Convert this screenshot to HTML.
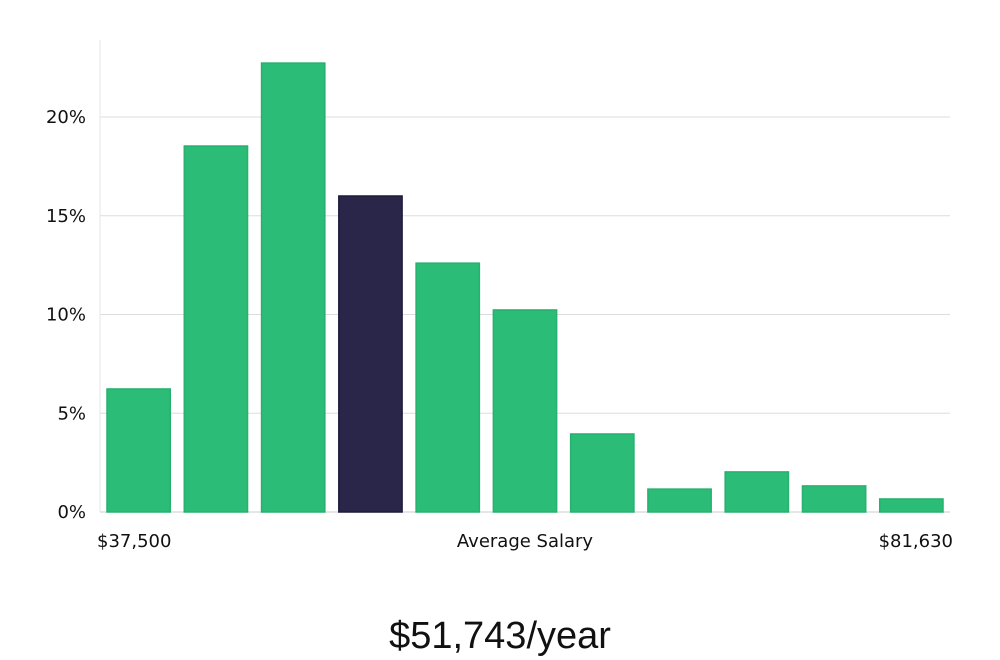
<!DOCTYPE html>
<html><head><meta charset="utf-8">
<style>
html,body{margin:0;padding:0;background:#fff;width:1000px;height:660px;overflow:hidden}
svg{display:block;font-family:"DejaVu Sans","Liberation Sans",sans-serif}
</style></head>
<body>
<svg id="chart" width="1000" height="660" viewBox="0 0 1000 660" xmlns="http://www.w3.org/2000/svg">
<g id="grid"></g>
<g id="bars"></g>
<g id="yticks"></g>
<line x1="100" y1="40" x2="100" y2="512" stroke="#e6e6e6" stroke-width="1"/>
<text x="97" y="547" font-size="18" fill="#111">$37,500</text>
<text x="525" y="547" font-size="18" fill="#111" text-anchor="middle">Average Salary</text>
<text x="953" y="547" font-size="18" fill="#111" text-anchor="end">$81,630</text>
<text x="500" y="648" font-size="38" fill="#111" text-anchor="middle" font-family="'Liberation Sans',sans-serif">$51,743/year</text>
</svg>
<script>
const values = [6.23, 18.53, 22.73, 16.0, 12.6, 10.23, 3.95, 1.16, 2.03, 1.32, 0.66];
const highlightIndex = [3];
const yTicks = [0, 5, 10, 15, 20];
const yTickLabels = ["0%", "5%", "10%", "15%", "20%"];
const NS = "http://www.w3.org/2000/svg";
const x0 = 100, x1 = 950, y0 = 512, pxPerPct = 19.75;
const y = v => y0 - v * pxPerPct;
const band = (x1 - x0) / values.length;
const xb = i => x0 + i * band + 7;
const grid = document.getElementById('grid');
const yt = document.getElementById('yticks');
yTicks.forEach((t, i) => {
  const l = document.createElementNS(NS, 'line');
  
  
  l.setAttribute('x1', x0); l.setAttribute('x2', x1);
  l.setAttribute('y1', y(t)); l.setAttribute('y2', y(t));
  l.setAttribute('stroke', t === 0 ? '#cccccc' : '#dddddd');
  grid.appendChild(l);
  const tx = document.createElementNS(NS, 'text');
  
  
  tx.setAttribute('x', 86); tx.setAttribute('y', y(t) + 6);
  tx.setAttribute('text-anchor', 'end');
  tx.setAttribute('font-size', '18'); tx.setAttribute('fill', '#111');
  tx.textContent = yTickLabels[i];
  yt.appendChild(tx);
});
const bars = document.getElementById('bars');
values.forEach((v, i) => {
  const r = document.createElementNS(NS, 'rect');
  
  
  const hi = highlightIndex.includes(i);
  r.setAttribute('x', xb(i)); r.setAttribute('y', y(v));
  r.setAttribute('width', band - 14); r.setAttribute('height', y0 - y(v));
  r.setAttribute('fill', hi ? '#29264a' : '#2bbd77');
  r.setAttribute('stroke', hi ? '#1c1a3c' : '#27b06e');
  r.setAttribute('stroke-width', '1.5');
  bars.appendChild(r);
});
</script>
</body></html>
